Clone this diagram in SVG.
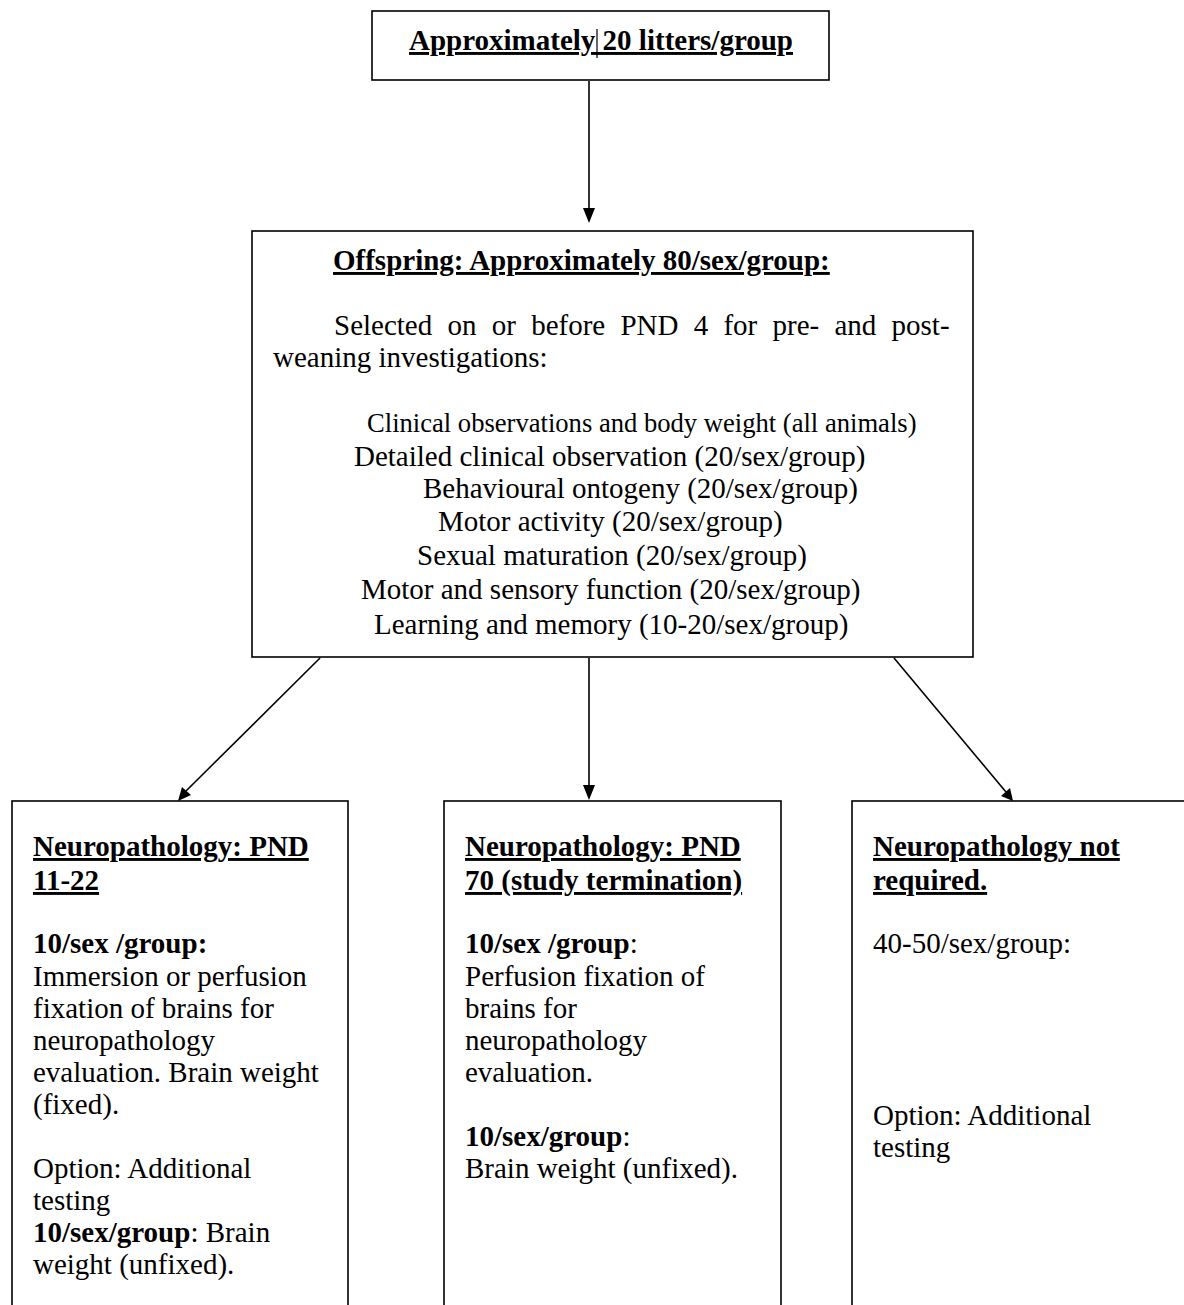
<svg xmlns="http://www.w3.org/2000/svg" width="1184" height="1305" viewBox="0 0 1184 1305">
<defs>
<style>
.box{fill:#fff;stroke:#000;stroke-width:1.6}
.t{font-family:"Liberation Serif","Times New Roman",serif;font-size:29px;fill:#000}
.s{font-size:26.6px}
.b{font-weight:bold}
.u{text-decoration:underline}
.c{text-anchor:middle}
.ln{stroke:#000;stroke-width:1.6;fill:none}
.head{fill:#000}
</style>
</defs>
<rect width="1184" height="1305" fill="#fff"/>
<g id="connectors">
<line class="ln" x1="589" y1="81" x2="589" y2="209"/>
<path class="head" d="M583,208 L589,223 L595,208 z"/>
<line class="ln" x1="589" y1="658" x2="589" y2="786"/>
<path class="head" d="M583,785 L589,800 L595,785 z"/>
<line class="ln" x1="320" y1="658" x2="186" y2="791"/>
<path class="head" d="M182,787 L178,801 L191,795 z"/>
<line class="ln" x1="894" y1="658" x2="1006" y2="792"/>
<path class="head" d="M1001,796 L1013,801 L1010,788 z"/>
</g>
<g id="node-litters">
<rect class="box" x="372" y="11" width="457" height="69"/>
<text class="t b u c" x="601" y="50">Approximately 20 litters/group</text>
<line x1="597" y1="29" x2="597" y2="58" stroke="#000" stroke-width="1.2"/>
</g>
<g id="node-offspring">
<rect class="box" x="252" y="231" width="721" height="426"/>
<text class="t b u" x="333" y="270">Offspring: Approximately 80/sex/group:</text>
<text class="t" x="334" y="335" word-spacing="8">Selected on or before PND 4 for pre- and post-</text>
<text class="t" x="273" y="367">weaning investigations:</text>
<text class="t s" x="367" y="432">Clinical observations and body weight (all animals)</text>
<text class="t" x="354" y="466">Detailed clinical observation (20/sex/group)</text>
<text class="t" x="423" y="498">Behavioural ontogeny (20/sex/group)</text>
<text class="t" x="438" y="531">Motor activity (20/sex/group)</text>
<text class="t" x="417" y="565">Sexual maturation (20/sex/group)</text>
<text class="t" x="361" y="599">Motor and sensory function (20/sex/group)</text>
<text class="t" x="374" y="634">Learning and memory (10-20/sex/group)</text>
</g>
<g id="node-pnd11">
<rect class="box" x="12" y="801" width="336" height="520"/>
<text class="t b u" x="33" y="856">Neuropathology: PND</text>
<text class="t b u" x="33" y="890">11-22</text>
<text class="t b" x="33" y="953">10/sex /group:</text>
<text class="t" x="33" y="986">Immersion or perfusion</text>
<text class="t" x="33" y="1018">fixation of brains for</text>
<text class="t" x="33" y="1050">neuropathology</text>
<text class="t" x="33" y="1082">evaluation. Brain weight</text>
<text class="t" x="33" y="1114">(fixed).</text>
<text class="t" x="33" y="1178">Option: Additional</text>
<text class="t" x="33" y="1210">testing</text>
<text class="t" x="33" y="1242"><tspan class="b">10/sex/group</tspan>: Brain</text>
<text class="t" x="33" y="1274">weight (unfixed).</text>
</g>
<g id="node-pnd70">
<rect class="box" x="444" y="801" width="337" height="520"/>
<text class="t b u" x="465" y="856">Neuropathology: PND</text>
<text class="t b u" x="465" y="890">70 (study termination)</text>
<text class="t" x="465" y="953"><tspan class="b">10/sex /group</tspan>:</text>
<text class="t" x="465" y="986">Perfusion fixation of</text>
<text class="t" x="465" y="1018">brains for</text>
<text class="t" x="465" y="1050">neuropathology</text>
<text class="t" x="465" y="1082">evaluation.</text>
<text class="t" x="465" y="1146"><tspan class="b">10/sex/group</tspan>:</text>
<text class="t" x="465" y="1178">Brain weight (unfixed).</text>
</g>
<g id="node-notrequired">
<rect class="box" x="852" y="801" width="360" height="520"/>
<text class="t b u" x="873" y="856">Neuropathology not</text>
<text class="t b u" x="873" y="890">required.</text>
<text class="t" x="873" y="953">40-50/sex/group:</text>
<text class="t" x="873" y="1125">Option: Additional</text>
<text class="t" x="873" y="1157">testing</text>
</g>
</svg>
